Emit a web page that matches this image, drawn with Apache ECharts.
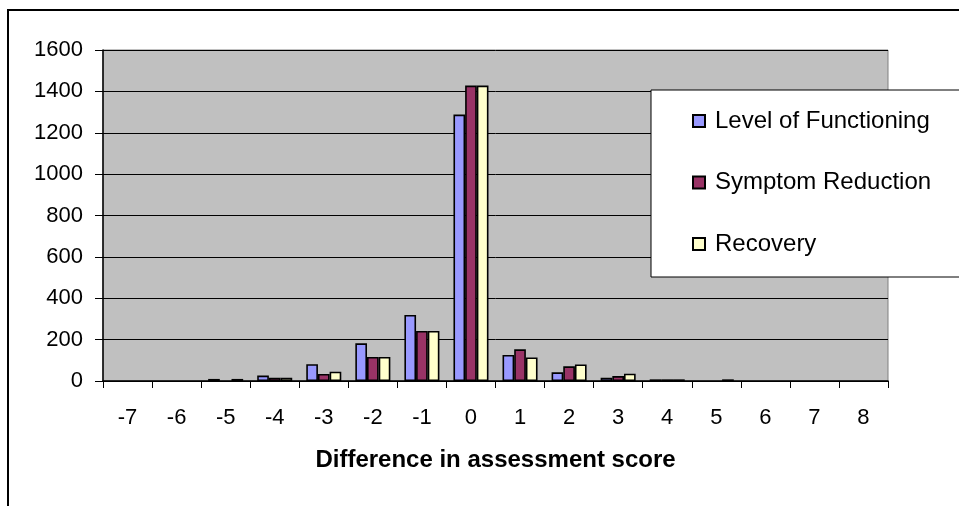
<!DOCTYPE html>
<html>
<head>
<meta charset="utf-8">
<script src="https://cdn.jsdelivr.net/npm/echarts@6/dist/echarts.min.js"></script>
<style>
html,body{margin:0;padding:0;background:#fff;}
#c{width:959px;height:506px;}
</style>
</head>
<body>
<div id="c"></div>
<script>
const categories = ['-7','-6','-5','-4','-3','-2','-1','0','1','2','3','4','5','6','7','8'];
const levelOfFunctioning = [0,0,10,26,81,182,319,1288,126,42,16,8,0,0,0,0];
const symptomReduction   = [0,0,0,16,34,116,242,1428,153,71,24,8,0,0,0,0];
const recovery           = [0,0,10,16,45,116,242,1428,114,80,35,8,8,0,0,0];
const yTicks = {min:0, max:1600, interval:200};
const seriesNames = ['Level of Functioning','Symptom Reduction','Recovery'];
const seriesColors = ['#9999FF','#993366','#FFFFCC'];

const FONT = 'Liberation Sans, Arial, sans-serif';
const chart = echarts.init(document.getElementById('c'), null, {renderer:'canvas'});
const mk = (name, data, color) => ({
  name, type:'bar', data: data.map(v => v === 0 ? '-' : v),
  barGap:'0%', barCategoryGap:'28.6%',
  itemStyle:{color, borderColor:'#000', borderWidth:1.6},
  emphasis:{disabled:true}, animation:false
});
chart.setOption({
  animation:false,
  textStyle:{fontFamily:FONT},
  graphic:[
    {type:'rect', z:0, shape:{x:8, y:10, width:1000, height:600}, style:{fill:'none', stroke:'#000', lineWidth:2}},
    {type:'rect', z:100, shape:{x:651, y:90, width:400, height:187}, style:{fill:'#fff', stroke:'#000', lineWidth:1}}
  ],
  grid:{left:103, top:50, right:71, bottom:125, show:true, backgroundColor:'#C0C0C0', borderColor:'#808080', borderWidth:1},
  legend:{
    z:101, orient:'vertical', left:692, top:109, padding:0, itemGap:37.5,
    icon:'rect', itemWidth:12, itemHeight:12,
    textStyle:{fontFamily:FONT, fontSize:24, color:'#000', padding:[0,0,0,5]},
    data:seriesNames
  },
  xAxis:{
    type:'category', data:categories,
    axisLine:{show:true, lineStyle:{color:'#000', width:1.5}},
    axisTick:{show:true, length:7, lineStyle:{color:'#000'}},
    axisLabel:{fontFamily:FONT, fontSize:22, color:'#000', margin:26},
    name:'Difference in assessment score', nameLocation:'middle', nameGap:67,
    nameTextStyle:{fontFamily:FONT, fontSize:24, fontWeight:'bold', color:'#000'}
  },
  yAxis:{
    type:'value', min:yTicks.min, max:yTicks.max, interval:yTicks.interval,
    axisLine:{show:true, lineStyle:{color:'#000', width:1.5}},
    axisTick:{show:true, length:8, lineStyle:{color:'#000'}},
    axisLabel:{fontFamily:FONT, fontSize:22, color:'#000', margin:20, formatter: v => String(v)},
    splitLine:{show:true, lineStyle:{color:'#000', width:1}}
  },
  series:[
    mk(seriesNames[0], levelOfFunctioning, seriesColors[0]),
    mk(seriesNames[1], symptomReduction, seriesColors[1]),
    mk(seriesNames[2], recovery, seriesColors[2])
  ]
});
</script>
</body>
</html>
